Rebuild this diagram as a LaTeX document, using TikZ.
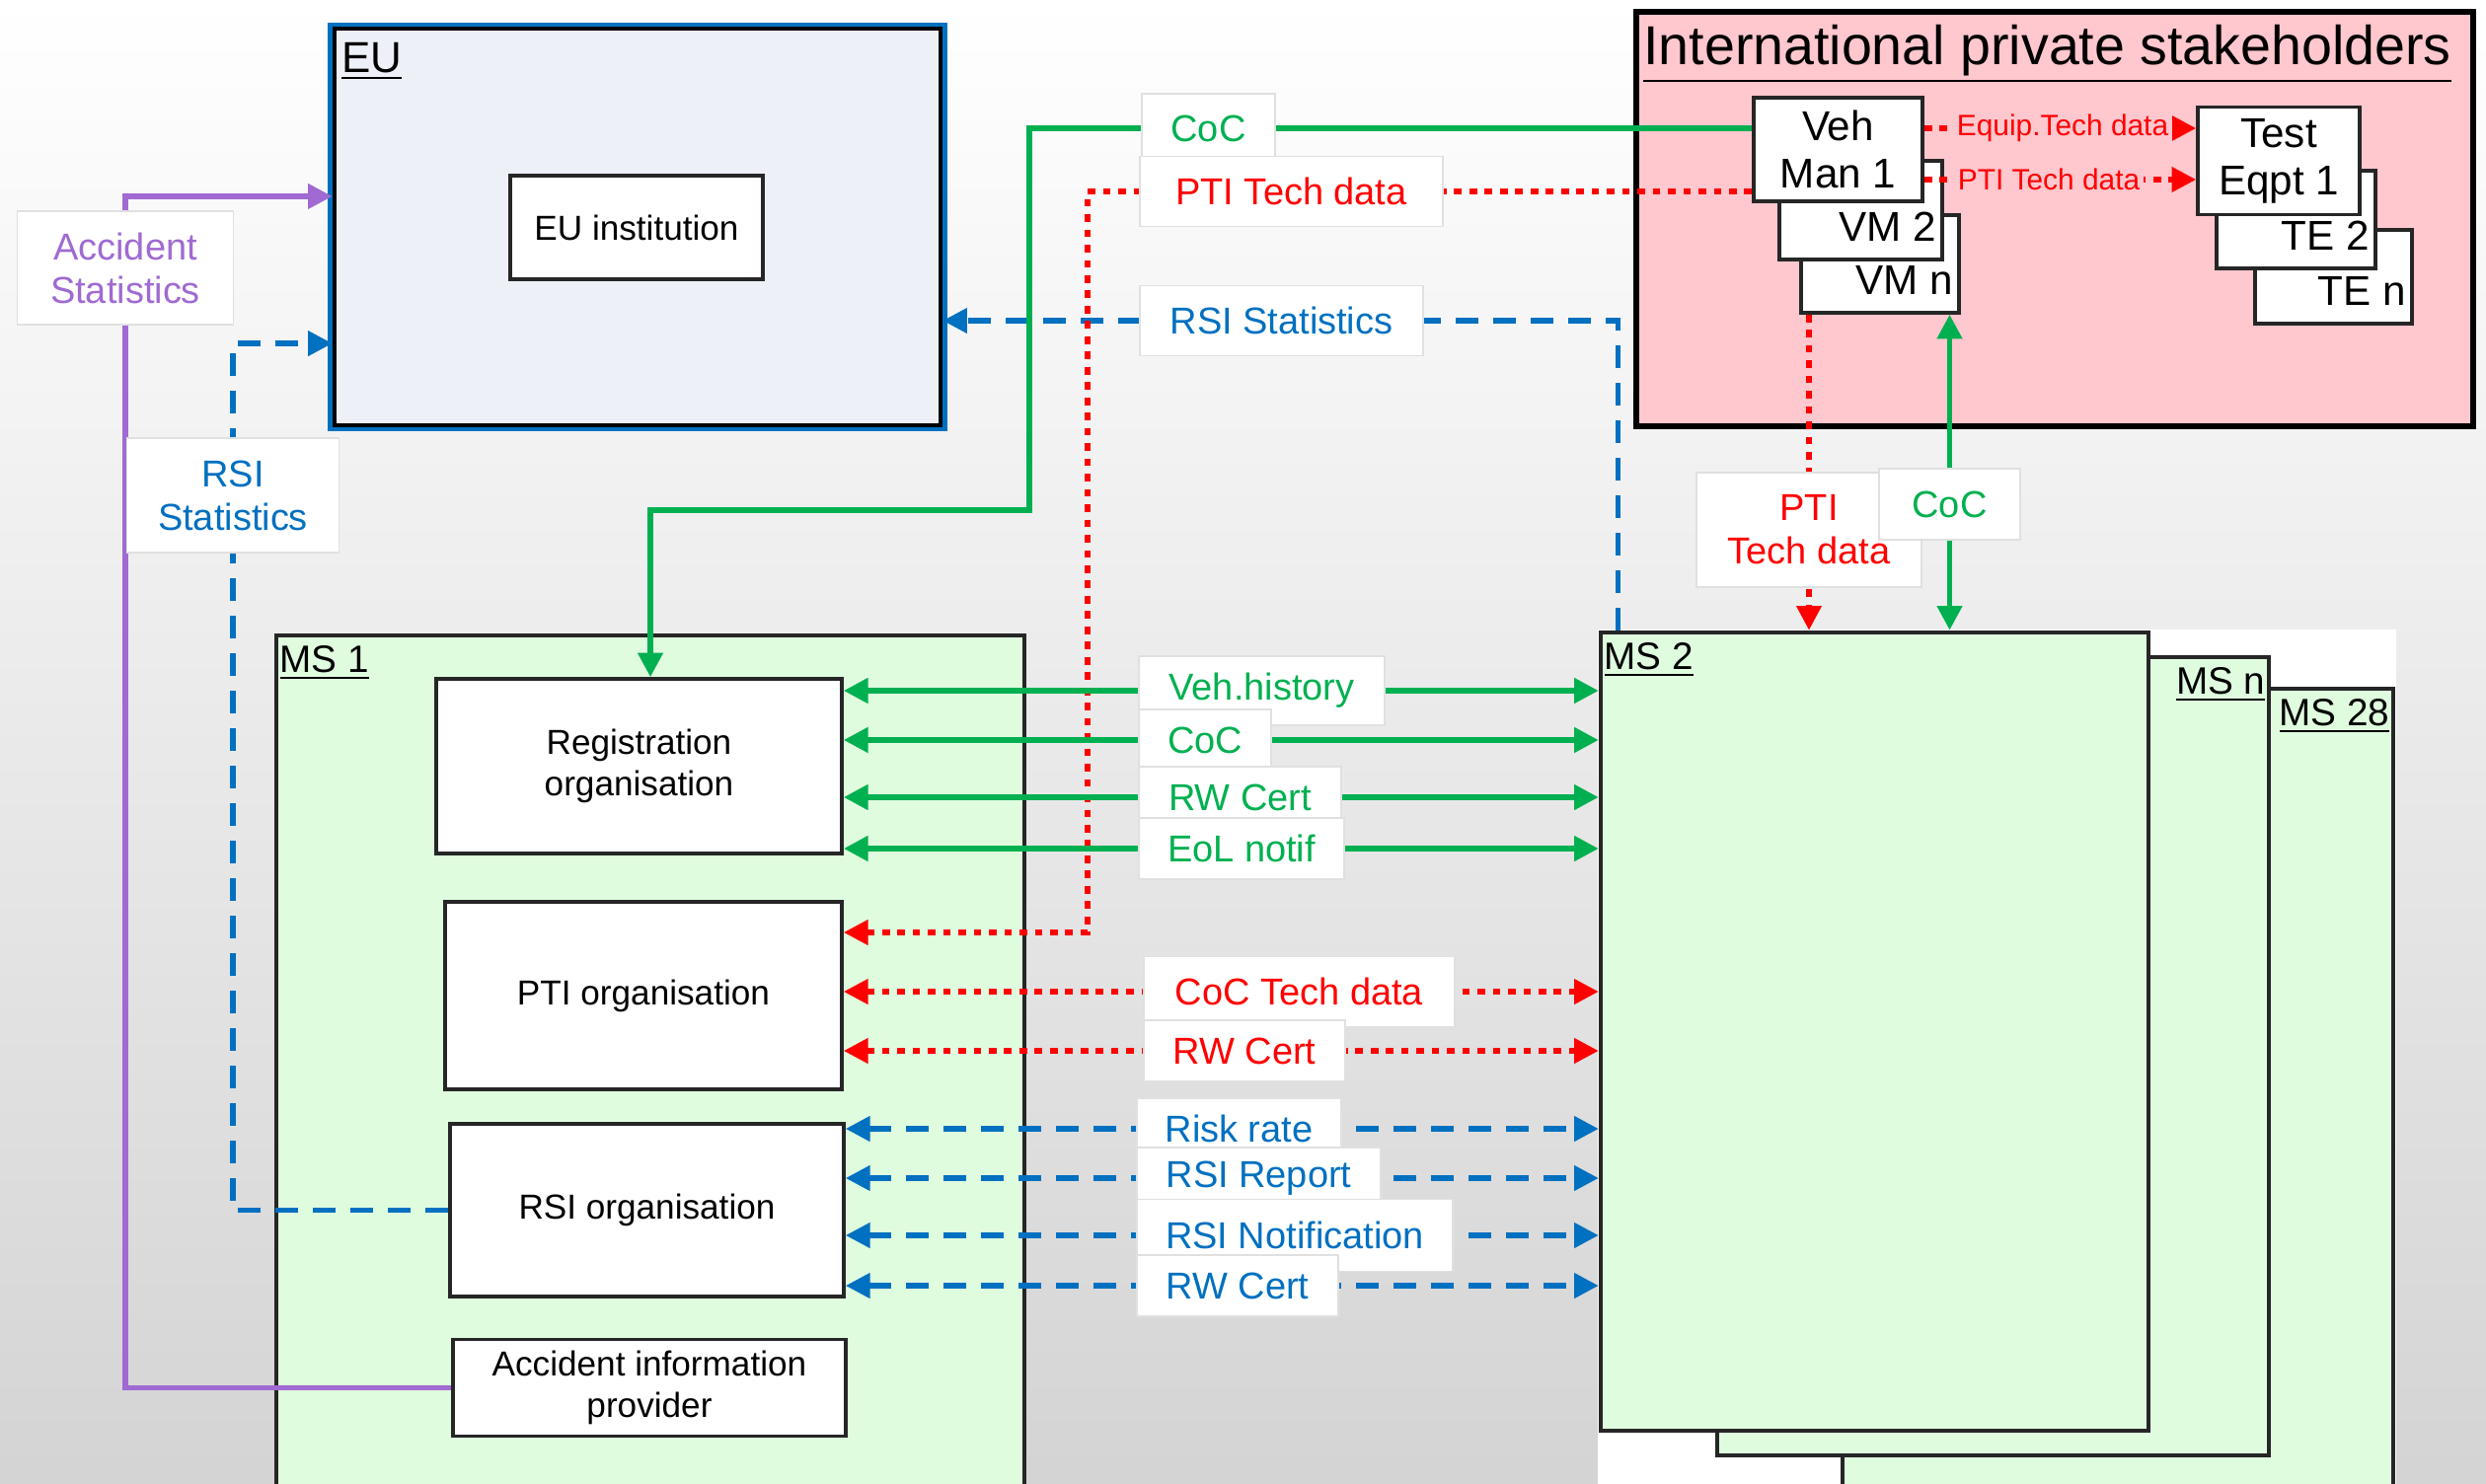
\documentclass[tikz,border=0pt]{standalone}
\usepackage{fontspec}
\setmainfont{Liberation Sans}
\usetikzlibrary{arrows.meta,positioning}
\definecolor{cocgreen}{RGB}{0,176,80}
\definecolor{ptired}{RGB}{255,0,0}
\definecolor{rsiblue}{RGB}{0,112,192}
\definecolor{accpurple}{RGB}{160,106,210}
\definecolor{ipspink}{RGB}{255,199,206}
\definecolor{msgreen}{RGB}{223,252,223}
\definecolor{eufill}{RGB}{237,241,247}
\pgfdeclarelayer{labels}
\pgfsetlayers{main,labels}
\tikzset{
    %Define standard arrow tip
    >={Triangle[length=7pt,width=7pt]},
    %Define style for boxes
    eubox/.style={
           rectangle,
           draw=black, line width=1.2pt,
           fill=eufill,
           preaction={draw=rsiblue, line width=3.6pt}},
    msbox/.style={
           rectangle,
           draw=black!85, line width=1.2pt,
           fill=msgreen},
    ipsbox/.style={
           rectangle,
           draw=black, line width=1.7pt,
           fill=ipspink},
    orgbox/.style={
           rectangle,
           draw=black!85, line width=1pt,
           fill=white,
           font=\fontsize{10}{11.9}\selectfont,
           align=center},
    makerbox/.style={
           rectangle,
           draw=black!85, line width=1pt,
           fill=white,
           font=\fontsize{12}{13.7}\selectfont,
           align=center},
    flowlabel/.style={
           rectangle,
           draw=black!12, line width=0.4pt,
           fill=white,
           font=\fontsize{10.8}{12.5}\selectfont,
           align=center},
    ipslabel/.style={
           fill=ipspink,
           text=ptired,
           inner sep=1pt,
           font=\fontsize{8.5}{10}\selectfont},
    boxtitle/.style={
           font=\fontsize{11}{13}\selectfont,
           inner xsep=1.5pt, inner ysep=3.5pt},
    cornertext/.style={
           font=\fontsize{12}{13.7}\selectfont,
           anchor=south east,
           inner xsep=2pt, inner ysep=5.5pt},
    % Define arrow styles
    cocline/.style={draw=cocgreen, line width=1.6pt},
    ptiline/.style={draw=ptired, line width=1.5pt, dash pattern=on 2.2pt off 2.2pt},
    rsiline/.style={draw=rsiblue, line width=1.5pt, dash pattern=on 6.5pt off 4.3pt},
    accline/.style={draw=accpurple, line width=1.5pt}
}

\begin{document}
\begin{tikzpicture}[x=0.01cm, y=-0.01cm]
\useasboundingbox (0,0) rectangle (2519,1504);
\clip (0,0) rectangle (2519,1504);
\shade[top color=white, middle color=white, bottom color=black!17] (0,0) rectangle (2519,1504);

 %EU
\node[eubox, minimum width=6.14cm, minimum height=4.02cm,
  label={[anchor=north west, inner xsep=2.5pt, inner ysep=4.5pt, font=\fontsize{12.5}{14}\selectfont]north west:\underline{EU}}]
  (eu) at (646,230) {};
\node[orgbox, minimum width=2.56cm, minimum height=1.05cm] (euinst) at (645,230.5) {EU institution};

 %member states
\node[msbox, minimum width=7.58cm, minimum height=8.76cm,
  label={[boxtitle, anchor=north west]north west:\underline{MS 1}}] (ms1) at (659,1082) {};
\fill[white] (1619,638) rectangle (2428,1520);
\node[msbox, minimum width=5.58cm, minimum height=8.22cm,
  label={[boxtitle, anchor=north east]north east:\underline{MS 28}}] (ms28) at (2146,1109) {};
\node[msbox, minimum width=5.59cm, minimum height=8.09cm,
  label={[boxtitle, anchor=north east]north east:\underline{MS n}}] (msn) at (2019.5,1070.5) {};
\node[msbox, minimum width=5.55cm, minimum height=8.09cm,
  label={[boxtitle, anchor=north west]north west:\underline{MS 2}}] (ms2) at (1899.5,1045.5) {};

 %organisations in MS 1
\node[orgbox, minimum width=4.11cm, minimum height=1.77cm] (reg) at (647.5,776.5) {Registration\\organisation};
\node[orgbox, minimum width=4.02cm, minimum height=1.90cm] (pti) at (652,1009) {PTI organisation};
\node[orgbox, minimum width=3.99cm, minimum height=1.75cm] (rsi) at (655.5,1226.5) {RSI organisation};
\node[orgbox, minimum width=3.98cm, minimum height=0.87cm] (aip) at (658,1406.5) {Accident information\\provider};

 %international private stakeholders
\node[ipsbox, minimum width=8.48cm, minimum height=4.20cm,
  label={[anchor=north west, inner xsep=2.8pt, inner ysep=4.5pt, font=\fontsize{15.8}{18}\selectfont]north west:\underline{International private stakeholders}}]
  (ips) at (2082,222) {};
\node[makerbox, minimum width=1.60cm, minimum height=0.99cm,
  label={[cornertext]south east:VM n}] (vmn) at (1905,267.5) {};
\node[makerbox, minimum width=1.65cm, minimum height=1.00cm,
  label={[cornertext]south east:VM 2}] (vm2) at (1885.5,213) {};
\node[makerbox, minimum width=1.71cm, minimum height=1.05cm] (vm1) at (1862.5,151.5) {Veh\\Man 1};
\node[makerbox, minimum width=1.59cm, minimum height=0.95cm,
  label={[cornertext]south east:TE n}] (ten) at (2364.5,280.5) {};
\node[makerbox, minimum width=1.61cm, minimum height=0.99cm,
  label={[cornertext]south east:TE 2}] (te2) at (2326.5,222.5) {};
\node[makerbox, minimum width=1.64cm, minimum height=0.98cm] (te1) at (2309,163) {Test\\Eqpt 1};

 %flow labels
\begin{pgfonlayer}{labels}
\node[flowlabel, text=accpurple, minimum width=2.19cm, minimum height=1.15cm] (accstat) at (127,271.5) {Accident\\Statistics};
\node[flowlabel, text=rsiblue, minimum width=2.15cm, minimum height=1.16cm] (rsistat) at (236,502) {RSI\\Statistics};
\node[flowlabel, text=cocgreen, minimum width=1.35cm, minimum height=0.70cm] (coctop) at (1224.5,130) {CoC};
\node[flowlabel, text=ptired, minimum width=3.07cm, minimum height=0.71cm] (ptitop) at (1308.5,194) {PTI Tech data};
\node[flowlabel, text=rsiblue, minimum width=2.87cm, minimum height=0.71cm] (rsitop) at (1298.5,325) {RSI Statistics};
\node[flowlabel, text=ptired, minimum width=2.28cm, minimum height=1.16cm] (ptivert) at (1833,537) {PTI\\Tech data};
\node[flowlabel, text=cocgreen, minimum width=1.43cm, minimum height=0.72cm] (cocvert) at (1975.5,511) {CoC};
\node[flowlabel, text=cocgreen, minimum width=2.49cm, minimum height=0.70cm] (vh) at (1278.5,700) {Veh.history};
\node[flowlabel, text=cocgreen, minimum width=1.34cm, minimum height=0.62cm] (coc) at (1221,750) {CoC};
\node[flowlabel, text=cocgreen, minimum width=2.05cm, minimum height=0.62cm] (rwg) at (1256.5,808) {RW Cert};
\node[flowlabel, text=cocgreen, minimum width=2.08cm, minimum height=0.62cm] (eol) at (1258,860) {EoL notif};
\node[flowlabel, text=ptired, minimum width=3.15cm, minimum height=0.71cm] (ctd) at (1316.5,1005) {CoC Tech data};
\node[flowlabel, text=ptired, minimum width=2.04cm, minimum height=0.62cm] (rwr) at (1261,1065) {RW Cert};
\node[flowlabel, text=rsiblue, minimum width=2.07cm, minimum height=0.62cm] (rr) at (1255.5,1144) {Risk rate};
\node[flowlabel, text=rsiblue, minimum width=2.47cm, minimum height=0.62cm] (rrep) at (1275.5,1194) {RSI Report};
\node[flowlabel, text=rsiblue, minimum width=3.20cm, minimum height=0.73cm] (rnot) at (1312,1252) {RSI Notification};
\node[flowlabel, text=rsiblue, minimum width=2.04cm, minimum height=0.62cm] (rwb) at (1254,1303) {RW Cert};
\node[ipslabel] (eqt) at (2090,130) {Equip.Tech data};
\node[ipslabel] (ptieq) at (2076,182) {PTI Tech data};
\end{pgfonlayer}

 %bends
\coordinate (cocbend) at (1043,517);
\coordinate (ptibend) at (1102,945);

 %connectors
\draw[accline,->] (aip.west) -| (accstat.center) |- ([yshift=0.31cm]eu.west);
\draw[rsiline,->] (rsi.west) -| (rsistat.center) |- ([yshift=-1.18cm]eu.west);
\draw[rsiline,->] ([xshift=0.2cm]ms2.north west) |- (eu.east |- rsitop);
\draw[cocline,->] (vm1.west |- coctop) -| (cocbend) -| ([xshift=0.115cm]reg.north);
\draw[ptiline,->] (vm1.west |- ptitop) -| (ptibend) -- (pti.east |- ptibend);
\draw[ptiline,->] (vmn.south -| ptivert) -- (ptivert |- ms2.north);
\draw[cocline,<->] (vmn.south -| cocvert) -- (cocvert |- ms2.north);
\draw[ptiline,->] (vm1.east |- eqt) -- (te1.west |- eqt);
\draw[ptiline,->] (vm1.east |- ptieq) -- (te1.west |- ptieq);

\draw[cocline,<->] (reg.east |- vh) -- (ms2.west |- vh);
\draw[cocline,<->] (reg.east |- coc) -- (ms2.west |- coc);
\draw[cocline,<->] (reg.east |- rwg) -- (ms2.west |- rwg);
\draw[cocline,<->] (reg.east |- eol) -- (ms2.west |- eol);
\draw[ptiline,<->] (pti.east |- ctd) -- (ms2.west |- ctd);
\draw[ptiline,<->] (pti.east |- rwr) -- (ms2.west |- rwr);
\draw[rsiline,<->] (rsi.east |- rr) -- (ms2.west |- rr);
\draw[rsiline,<->] (rsi.east |- rrep) -- (ms2.west |- rrep);
\draw[rsiline,<->] (rsi.east |- rnot) -- (ms2.west |- rnot);
\draw[rsiline,<->] (rsi.east |- rwb) -- (ms2.west |- rwb);
\end{tikzpicture}
\end{document}
